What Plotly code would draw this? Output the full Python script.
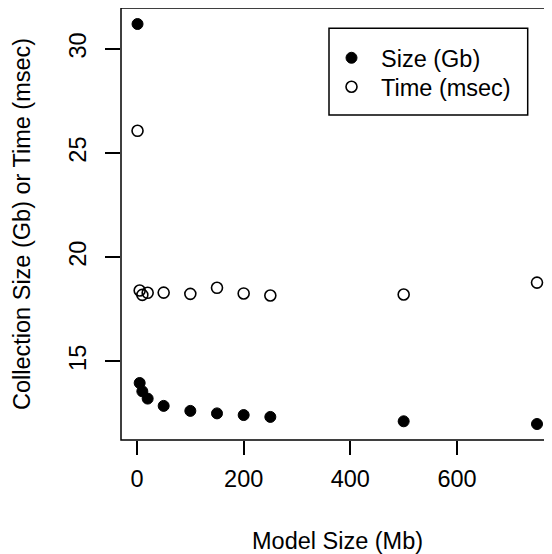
import plotly.graph_objects as go

model_size = [1, 5, 10, 20, 50, 100, 150, 200, 250, 500, 750]
coll_size = [31.2, 13.96, 13.56, 13.21, 12.86, 12.62, 12.5, 12.42, 12.33, 12.12, 11.99]
time_ms = [26.07, 18.4, 18.19, 18.29, 18.3, 18.24, 18.53, 18.26, 18.16, 18.21, 18.78]
x_ticks = [0, 200, 400, 600]
y_ticks = [15, 20, 25, 30]

FONT = "Liberation Sans, Arial, Helvetica, sans-serif"
FS = 23.5

fig = go.Figure()
fig.add_trace(go.Scatter(x=model_size, y=coll_size, mode="markers", name="Size (Gb)",
                         legend="legend",
                         marker=dict(symbol="circle", size=11, color="black",
                                     line=dict(color="black", width=1))))
fig.add_trace(go.Scatter(x=model_size, y=time_ms, mode="markers", name="Time (msec)",
                         legend="legend2",
                         marker=dict(symbol="circle-open", size=11, color="black",
                                     line=dict(color="black", width=1.6))))

ally = coll_size + time_ms
xlo, xhi = 0 - 0.04 * 750, 750 + 0.04 * 750
ylo = min(ally) - 0.04 * (max(ally) - min(ally))
yhi = max(ally) + 0.04 * (max(ally) - min(ally))

# page body has an 8px margin; figure starts at window (8, 8)
OFF = 8
W, H = 552 - OFF, 554 - OFF
PL, PT, PB_ = 121, 8, 440          # plot area in window coords (left, top, bottom)
ML, MT = PL - OFF, PT - OFF
MB = (H + OFF) - PB_
pw = W - ML
ph = PB_ - PT
px_per_unit = 432 / (xhi - xlo)
x_right = xlo + pw / px_per_unit


def px(X):
    return (X - PL) / pw


def py(Y):
    return (PB_ - Y) / ph


leg_common = dict(xanchor="left", yanchor="top", borderwidth=0, bgcolor="rgba(0,0,0,0)",
                  font=dict(family=FONT, size=FS, color="black"), itemwidth=49)

fig.update_layout(
    width=W, height=H,
    margin=dict(l=ML, r=0, t=MT, b=MB, pad=0),
    paper_bgcolor="white", plot_bgcolor="white",
    font=dict(family=FONT, size=FS, color="black"),
    showlegend=True,
    legend=dict(x=px(322), y=py(36), **leg_common),
    legend2=dict(x=px(322), y=py(65), **leg_common),
    xaxis=dict(range=[xlo, x_right], tickmode="array", tickvals=x_ticks,
               ticktext=[str(v) for v in x_ticks],
               showgrid=False, zeroline=False, showline=False,
               ticks="outside", ticklen=14, tickwidth=1.5, tickcolor="black",
               ticklabelstandoff=4, tickfont=dict(family=FONT, size=FS)),
    yaxis=dict(range=[ylo, yhi], tickmode="array", tickvals=y_ticks,
               ticktext=[str(v) for v in y_ticks],
               showgrid=False, zeroline=False, showline=False,
               ticks="outside", ticklen=15, tickwidth=1.5, tickcolor="black",
               tickangle=-90, ticklabelstandoff=10, tickfont=dict(family=FONT, size=FS)),
    shapes=[
        dict(type="rect", xref="paper", yref="paper", x0=0, x1=432 / pw, y0=0, y1=1,
             line=dict(color="black", width=1.5), fillcolor="rgba(0,0,0,0)", layer="above"),
        dict(type="rect", xref="paper", yref="paper", x0=px(329), x1=px(527.7),
             y0=py(115), y1=py(28.3),
             line=dict(color="black", width=1.5), fillcolor="white", layer="below"),
    ],
    annotations=[
        dict(text="Model Size (Mb)", xref="paper", yref="paper",
             x=px(337), y=py(541), xanchor="center", yanchor="middle",
             showarrow=False, font=dict(family=FONT, size=FS)),
        dict(text="Collection Size (Gb) or Time (msec)", xref="paper", yref="paper",
             x=px(22), y=0.5, xanchor="center", yanchor="middle", textangle=-90,
             showarrow=False, font=dict(family=FONT, size=FS)),
    ],
)

fig.write_html("out.html")
